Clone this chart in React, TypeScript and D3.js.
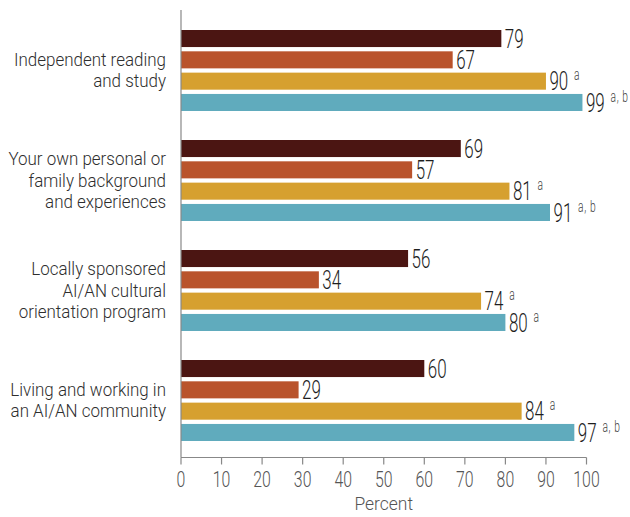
import React from "react";
import * as d3 from "d3";

const categories: string[][] = [
  ["Independent reading", "and study"],
  ["Your own personal or", "family background", "and experiences"],
  ["Locally sponsored", "AI/AN cultural", "orientation program"],
  ["Living and working in", "an AI/AN community"],
];
const seriesNames = ["s1", "s2", "s3", "s4"];
const s1 = [79, 69, 56, 60];
const s2 = [67, 57, 34, 29];
const s3 = [90, 81, 74, 84];
const s4 = [99, 91, 80, 97];
const s3Notes = ["a", "a", "a", "a"];
const s4Notes = ["a, b", "a, b", "a", "a, b"];
const colors = ["#4b1512", "#b9532c", "#d6a02f", "#60abbd"];
const xTicks = [0, 10, 20, 30, 40, 50, 60, 70, 80, 90, 100];
const axisTitle = "Percent";

const W = 630;
const H = 517;
const FONT = "Roboto, 'DejaVu Sans Condensed', sans-serif";

function SText(props: {
  x: number;
  y: number;
  sx: number;
  size: number;
  anchor?: string;
  fill: string;
  weight?: number;
  children: React.ReactNode;
}) {
  const { x, y, sx, size, anchor, fill, weight, children } = props;
  return (
    <g transform={`translate(${x},${y}) scale(${sx},1)`}>
      <text
        x={0}
        y={0}
        fontSize={size}
        textAnchor={anchor || "start"}
        fill={fill}
        fontFamily={FONT}
        fontWeight={weight || 300}
      >
        {children}
      </text>
    </g>
  );
}

export default function App() {
  const x = d3.scaleLinear().domain([0, 100]).range([181, 586.5]);
  const groupY = d3.scaleBand<number>().domain(d3.range(4)).range([30, 470]);
  const barY = d3.scaleBand<number>().domain(d3.range(4)).range([0, 81]).paddingInner(0.2).paddingOuter(0);
  const values = [s1, s2, s3, s4];
  const notes: (string[] | null)[] = [null, null, s3Notes, s4Notes];
  const axisY = 457.5;
  return (
    <svg width={W} height={H} style={{ position: "absolute", left: 0, top: 0, background: "#fff" }}>
      {categories.map((lines, gi) => {
        const g0 = groupY(gi)!;
        const center = g0 + 40.5;
        const lh = 21.5;
        const start = center - ((lines.length - 1) * lh) / 2 + 6.2;
        return (
          <g key={gi}>
            {lines.map((ln, li) => (
              <SText key={li} x={166} y={start + li * lh} sx={0.97} size={17.5} anchor="end" fill="#2e2e2e" weight={300}>
                {ln}
              </SText>
            ))}
            {values.map((arr, si) => {
              const v = arr[gi];
              const y0 = g0 + barY(si)!;
              const bh = barY.bandwidth();
              const n = notes[si] ? notes[si]![gi] : null;
              return (
                <g key={seriesNames[si]}>
                  <rect x={x(0)} y={y0} width={x(v) - x(0)} height={bh} fill={colors[si]} />
                  <SText x={x(v) + 3.5} y={y0 + bh / 2 + 9.3} sx={0.64} size={26.5} fill="#1e1e1e" weight={300}>
                    {v}
                    <tspan fontSize={16} dx={9} dy={-10} fill="#444" letterSpacing={1}>
                      {n || ""}
                    </tspan>
                  </SText>
                </g>
              );
            })}
          </g>
        );
      })}
      <line x1={181} x2={181} y1={10} y2={axisY} stroke="#888" strokeWidth={1.2} />
      <line x1={181} x2={586.5} y1={axisY} y2={axisY} stroke="#888" strokeWidth={1.2} />
      {xTicks.map((t) => (
        <g key={t}>
          <line x1={x(t)} x2={x(t)} y1={axisY} y2={axisY + 7} stroke="#888" strokeWidth={1.2} />
          <SText x={x(t)} y={487.3} sx={0.72} size={22} anchor="middle" fill="#555">
            {t}
          </SText>
        </g>
      ))}
      <SText x={x(50)} y={510} sx={0.97} size={18} anchor="middle" fill="#555">
        {axisTitle}
      </SText>
    </svg>
  );
}
